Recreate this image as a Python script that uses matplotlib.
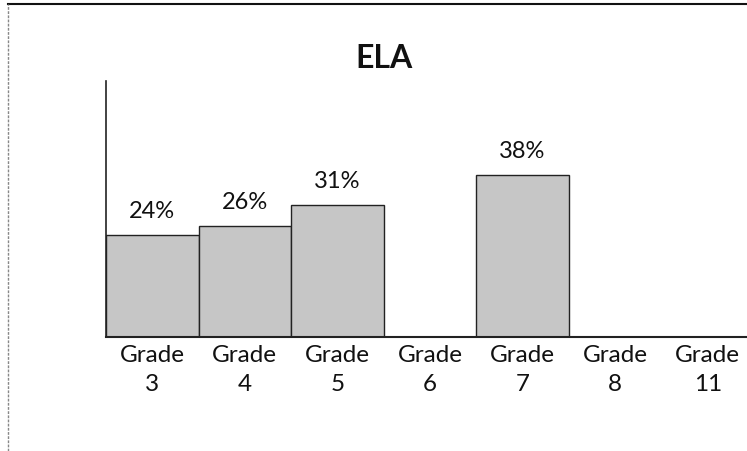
import matplotlib
matplotlib.use("Agg")
import matplotlib.pyplot as plt
from matplotlib.lines import Line2D

# ELA proficiency by grade
grades = ["Grade\n3", "Grade\n4", "Grade\n5", "Grade\n6", "Grade\n7", "Grade\n8", "Grade\n11"]
values = [24, 26, 31, None, 38, None, None]

plt.rcParams["font.family"] = ["Lato", "DejaVu Sans"]

fig = plt.figure(figsize=(7.47, 4.52), dpi=100)
W, H = 747, 452
# axes spans x 106..754 px, y 82..338 px (from top)
ax = fig.add_axes([106 / W, (H - 338) / H, 648 / W, 256 / H])

xs = list(range(len(grades)))
for x, v in zip(xs, values):
    if v is None:
        continue
    ax.bar(x, v, width=1.0, color="#c6c6c6", edgecolor="#222222", linewidth=1.0)
    ax.text(x, v + 3.3, f"{v}%", ha="center", va="bottom", fontsize=17, color="#111111")

ax.set_xlim(-0.5, len(grades) - 0.5)
ax.set_ylim(0, 60)
ax.set_xticks(xs)
ax.set_xticklabels(grades, fontsize=17.5, color="#111111", linespacing=1.45)
ax.tick_params(axis="x", length=0, pad=5)
ax.set_yticks([])
for s in ["top", "right"]:
    ax.spines[s].set_visible(False)
ax.spines["left"].set_color("#222222")
ax.spines["bottom"].set_color("#222222")
ax.spines["left"].set_linewidth(1.2)
ax.spines["bottom"].set_linewidth(1.5)

fig.text(384 / W, 1 - 58 / H, "ELA", ha="center", va="center", fontsize=23, fontweight="bold", color="#111111")

# outer chart frame (top and left edges visible)
fig.add_artist(Line2D([8 / W, 1], [1 - 5 / H, 1 - 5 / H], transform=fig.transFigure, color="#111111", lw=1.5))
fig.add_artist(Line2D([8 / W, 8 / W], [0, 1 - 5 / H], transform=fig.transFigure, color="#888888", lw=1.0, ls=(0, (2, 1))))

fig.savefig("out.png", dpi=100)
